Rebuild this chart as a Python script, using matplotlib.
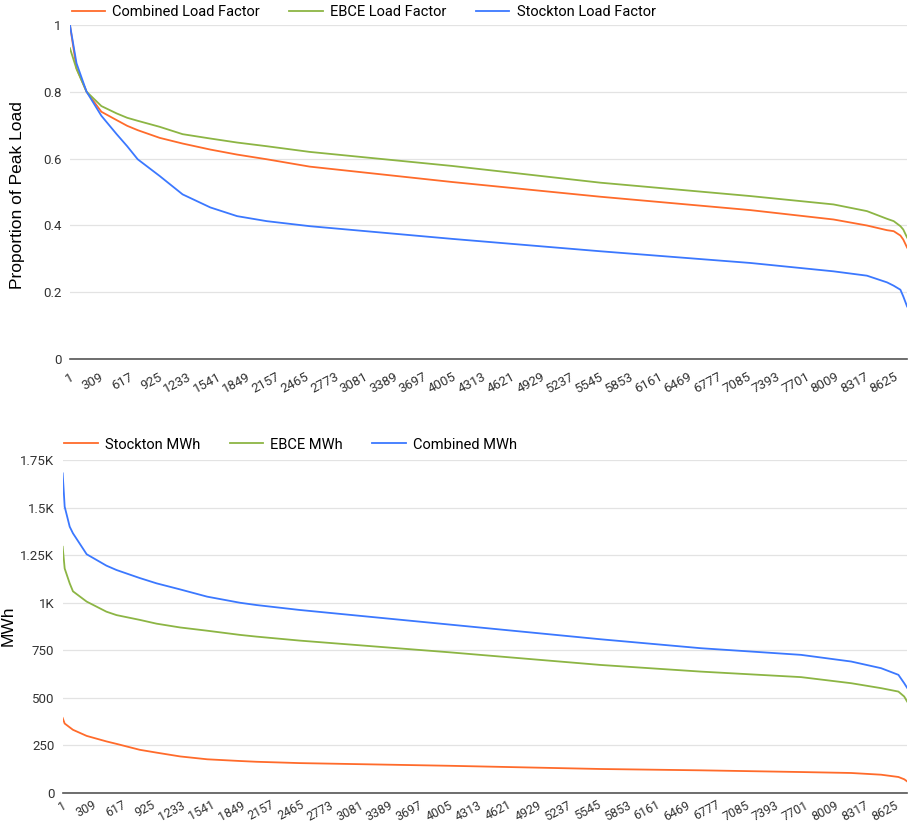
import matplotlib
matplotlib.use("Agg")
import matplotlib.pyplot as plt
from matplotlib.ticker import FuncFormatter

# hour rank (sorted load duration) and values
top_hours = [1, 70, 175, 330, 490, 600, 710, 940, 1180, 1470, 1750, 2060, 2510,
             4000, 5550, 7120, 7990, 8340, 8550, 8620, 8690, 8720, 8760]
combined_lf = [1.0, 0.87, 0.80, 0.74, 0.715, 0.698, 0.685, 0.662, 0.645, 0.627, 0.612, 0.598, 0.576,
               0.53, 0.486, 0.446, 0.418, 0.40, 0.386, 0.383, 0.37, 0.358, 0.334]
ebce_lf = [0.93, 0.868, 0.80, 0.757, 0.735, 0.722, 0.713, 0.695, 0.673, 0.66, 0.648, 0.637, 0.62,
           0.578, 0.528, 0.488, 0.463, 0.443, 0.42, 0.413, 0.398, 0.388, 0.364]
stockton_lf = [1.0, 0.885, 0.80, 0.728, 0.673, 0.637, 0.598, 0.548, 0.493, 0.454, 0.428, 0.413, 0.398,
               0.36, 0.323, 0.288, 0.263, 0.25, 0.23, 0.22, 0.208, 0.188, 0.158]

bot_hours = [1, 22, 74, 108, 250, 455, 560, 800, 975, 1220, 1500, 1840, 2010, 2460,
             4000, 5580, 6620, 7660, 8180, 8490, 8670, 8730, 8760]
stockton_mwh = [394, 365, 345, 332, 300, 271, 258, 227, 212, 192, 177, 168, 164, 157,
                143, 126, 119, 110, 105, 96, 84, 72, 61]
ebce_mwh = [1294, 1180, 1102, 1060, 1006, 953, 935, 910, 890, 870, 853, 831, 822, 801,
            740, 673, 638, 609, 577, 551, 533, 507, 481]
combined_mwh = [1680, 1505, 1400, 1365, 1255, 1195, 1172, 1130, 1102, 1070, 1032, 1000, 988, 962,
                886, 808, 761, 726, 691, 656, 621, 577, 553]

x_ticks = list(range(1, 8761, 308))
top_yticks = [0, 0.2, 0.4, 0.6, 0.8, 1]
bot_yticks = [0, 250, 500, 750, 1000, 1250, 1500, 1750]

ORANGE = "#ff6b2b"
GREEN = "#8cb544"
BLUE = "#3b78ff"

plt.rcParams["font.family"] = ["Roboto", "DejaVu Sans"]

fig = plt.figure(figsize=(9.08, 8.26), dpi=100)
ax1 = fig.add_axes([0.077, 0.565, 0.922, 0.405])
ax2 = fig.add_axes([0.069, 0.040, 0.930, 0.403])


def style_axis(ax, yticks, xsize, xpad):
    ax.set_xlim(1, 8760)
    ax.set_ylim(yticks[0], yticks[-1])
    ax.set_yticks(yticks)
    ax.set_xticks(x_ticks)
    ax.set_xticklabels([str(t) for t in x_ticks], rotation=28, ha="right",
                       rotation_mode="anchor", fontsize=xsize, color="#333333")
    ax.tick_params(axis="both", length=0, pad=4)
    ax.tick_params(axis="y", labelsize=9.5, labelcolor="#333333", pad=6)
    ax.tick_params(axis="x", pad=xpad)
    for s in ["top", "right", "left"]:
        ax.spines[s].set_visible(False)
    ax.spines["bottom"].set_color("#555555")
    ax.spines["bottom"].set_linewidth(1.2)
    ax.grid(axis="y", color="#e3e3e3", linewidth=0.9)
    ax.set_axisbelow(True)


# 위 차트: load factor
ax1.plot(top_hours, combined_lf, color=ORANGE, lw=1.3, label="Combined Load Factor")
ax1.plot(top_hours, ebce_lf, color=GREEN, lw=1.3, label="EBCE Load Factor")
ax1.plot(top_hours, stockton_lf, color=BLUE, lw=1.3, label="Stockton Load Factor")
style_axis(ax1, top_yticks, 9.5, 8)
ax1.yaxis.set_major_formatter(FuncFormatter(lambda v, p: "%g" % v))
ax1.legend(loc="lower left", bbox_to_anchor=(-0.005, 1.0), ncol=3, frameon=False,
           fontsize=10.5, handlelength=2.3, columnspacing=2.0, borderaxespad=0, handletextpad=0.5)
fig.text(0.019, 0.764, "Proportion of Peak Load", rotation=90, ha="center", va="center",
         fontsize=12.5, family=["Liberation Sans", "DejaVu Sans"])

# 아래 차트: MWh
ax2.plot(bot_hours, stockton_mwh, color=ORANGE, lw=1.3, label="Stockton MWh")
ax2.plot(bot_hours, ebce_mwh, color=GREEN, lw=1.3, label="EBCE MWh")
ax2.plot(bot_hours, combined_mwh, color=BLUE, lw=1.3, label="Combined MWh")
style_axis(ax2, bot_yticks, 9, 4)


def k_fmt(v, p):
    if v >= 1000:
        return "%gK" % (v / 1000)
    return "%d" % v


ax2.yaxis.set_major_formatter(FuncFormatter(k_fmt))
ax2.legend(loc="lower left", bbox_to_anchor=(-0.005, 1.008), ncol=3, frameon=False,
           fontsize=10.5, handlelength=2.3, columnspacing=2.0, borderaxespad=0, handletextpad=0.5)
fig.text(0.009, 0.243, "MWh", rotation=90, ha="center", va="center",
         fontsize=12.5, family=["Liberation Sans", "DejaVu Sans"])

fig.savefig("out.png", dpi=100)
